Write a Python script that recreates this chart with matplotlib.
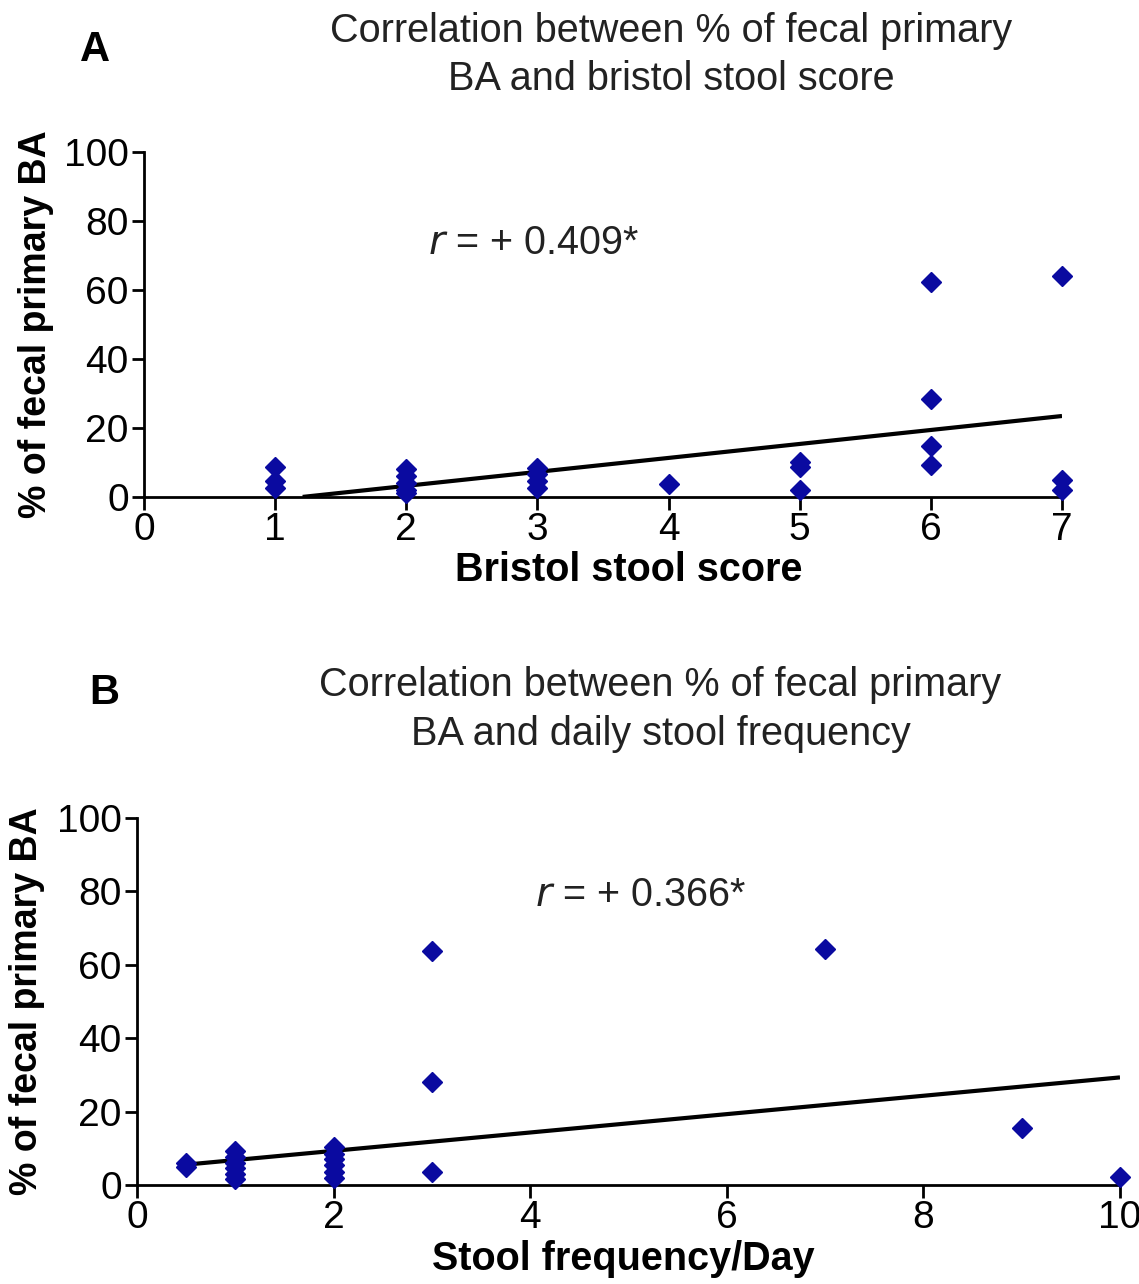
import matplotlib
matplotlib.use("Agg")
import matplotlib.pyplot as plt
import numpy as np

plt.rcParams["font.family"] = ["Liberation Sans", "DejaVu Sans"]

# Panel A: Bristol stool score vs % primary bile acids
bristol_score = [1, 1, 1, 2, 2, 2, 2, 2, 3, 3, 3, 3, 4, 5, 5, 5, 6, 6, 6, 6, 7, 7, 7]
primary_ba_a = [8.6, 4.5, 2.5, 8.0, 6.0, 4.0, 2.0, 1.0, 8.3, 6.5, 4.5, 2.5, 3.7,
                10.1, 8.7, 1.9, 62.3, 28.5, 14.7, 9.2, 64.0, 4.8, 1.9]
fit_a = (4.05, -4.9)   # slope, intercept
r_a = "+ 0.409"

# Panel B: daily stool frequency vs % primary bile acids
stool_freq = [0.5, 0.5, 1, 1, 1, 1, 1, 1, 2, 2, 2, 2, 2, 2, 3, 3, 3, 7, 9, 10]
primary_ba_b = [6.0, 5.0, 9.3, 7.5, 6.0, 4.5, 3.0, 1.6, 10.3, 8.5, 7.0, 5.5, 3.5, 1.8,
                63.8, 28.0, 3.5, 64.3, 15.5, 2.2]
fit_b = (2.5, 4.3)
r_b = "+ 0.366"

BLUE = "#0a0aa0"
TXT = "#222222"

fig = plt.figure(figsize=(11.39, 12.84), dpi=100)


def panel(rect, x, y, fit, xmax, xticks, xlabel, title, r_txt, r_pos, letter,
          letter_pos, title_pos, x0, ylab_x, xlab_x, xlab_pad):
    ax = fig.add_axes(rect)
    ax.plot(x, y, ls="none", marker="D", ms=10, color=BLUE, clip_on=False, zorder=3)
    slope, icpt = fit
    xs = np.array([x0, xmax])
    ax.plot(xs, slope * xs + icpt, color="black", lw=3, solid_capstyle="butt", zorder=2)
    ax.set_xlim(0, xmax)
    ax.set_ylim(0, 100)
    ax.set_xticks(xticks)
    ax.set_yticks(range(0, 101, 20))
    for s in ("top", "right"):
        ax.spines[s].set_visible(False)
    for s in ("left", "bottom"):
        ax.spines[s].set_linewidth(2)
    ax.tick_params(width=2, length=9, labelsize=28, pad=2, colors="black")
    ax.set_xlabel(xlabel, fontsize=28.5, fontweight="bold", labelpad=xlab_pad)
    ax.xaxis.label.set_x(xlab_x)
    ax.set_ylabel("% of fecal primary BA", fontsize=27, fontweight="bold")
    ax.yaxis.set_label_coords(ylab_x, 0.5)
    fig.text(title_pos[0], title_pos[1], title, ha="center", va="top", fontsize=28.5,
             color=TXT, linespacing=1.35)
    fig.text(letter_pos[0], letter_pos[1], letter, fontsize=30, fontweight="bold",
             ha="center", va="center")
    ax.text(r_pos[0], r_pos[1], r"$r$ = " + r_txt + "*", transform=ax.transAxes,
            fontsize=28.5, ha="center", va="center", color=TXT)
    return ax


panel([0.1264, 0.613, 0.806, 0.2687], bristol_score, primary_ba_a, fit_a, 7,
      range(0, 8), "Bristol stool score",
      "Correlation between % of fecal primary\nBA and bristol stool score",
      r_a, (0.425, 0.736), "A", (0.0834, 0.961), (0.589, 0.9907),
      -fit_a[1] / fit_a[0], -0.098, 0.528, 2)

panel([0.1203, 0.0771, 0.863, 0.286], stool_freq, primary_ba_b, fit_b, 10,
      range(0, 11, 2), "Stool frequency/Day",
      "Correlation between % of fecal primary\nBA and daily stool frequency",
      r_b, (0.512, 0.79), "B", (0.0913, 0.4605), (0.58, 0.4813),
      0.5, -0.094, 0.495, 3)

fig.savefig("out.png", dpi=100)
